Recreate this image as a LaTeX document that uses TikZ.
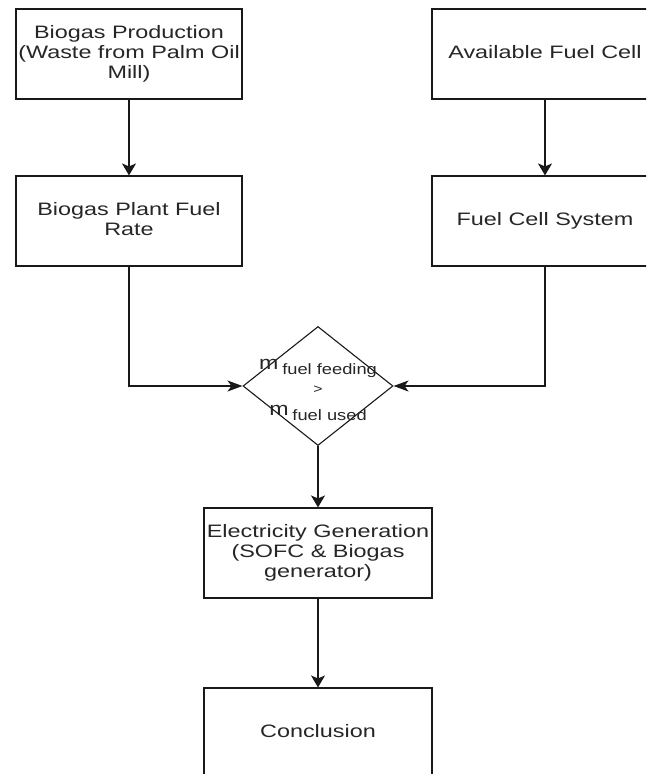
\documentclass[tikz,border=0pt]{standalone}
\usepackage{graphicx}
\usepackage{fontspec}
\setmainfont{Liberation Sans}
\usetikzlibrary{arrows.meta,shapes.geometric}
\newcommand{\strtxt}[1]{\scalebox{1.3}[1]{\begin{tabular}{@{}c@{}}#1\end{tabular}}}
\newcommand{\subtxt}[1]{\,\raisebox{-5pt}{\fontsize{15}{15}\selectfont #1}}
\begin{document}
\begin{tikzpicture}[x=1pt,y=-1pt,
  box/.style={draw=black!90, line width=1.1pt, rectangle, minimum width=226pt,
    minimum height=90pt, inner sep=0pt, text=black!85,
    font=\fontsize{18}{20}\selectfont},
  dia/.style={draw=black!90, line width=1.1pt, diamond, minimum width=150pt,
    minimum height=119pt, inner sep=0pt},
  dtxt/.style={inner sep=0pt, text=black!85, font=\fontsize{19}{22}\selectfont},
  arrv/.style={draw=black!90, line width=1.1pt, -{Stealth[length=12pt,width=14pt,inset=3pt]}},
  arrh/.style={draw=black!90, line width=1.1pt, -{Stealth[length=15pt,width=11pt,inset=4pt]}}]
\useasboundingbox (0,0) rectangle (646,774);
\clip (0,0) rectangle (646,774);
\node[box] (b1) at (129,54) {\strtxt{Biogas Production\\(Waste from Palm Oil\\Mill)}};
\node[box] (b2) at (129,221) {\strtxt{Biogas Plant Fuel\\Rate}};
\node[box] (r1) at (545,54) {\strtxt{Available Fuel Cell}};
\node[box] (r2) at (545,221) {\strtxt{Fuel Cell System}};
\node[dia] (d) at (318,386) {};
\node[dtxt] (dt) at (318,388) {\scalebox{1.22}[1]{\begin{tabular}{@{}c@{}}m\subtxt{fuel feeding}\\{\fontsize{13}{13}\selectfont \textgreater}\\m\subtxt{fuel used}\end{tabular}}};
\node[box, minimum width=228pt] (e) at (318,553) {\strtxt{Electricity Generation\\(SOFC \& Biogas\\generator)}};
\node[box, minimum width=228pt] (c) at (318,733) {\strtxt{Conclusion}};
\draw[arrv] (b1) -- (b2);
\draw[arrv] (r1) -- (r2);
\draw[arrh] (b2.south) |- (d.west);
\draw[arrh] (r2.south) |- (d.east);
\draw[arrv] (d.south) -- (e.north);
\draw[arrv] (e.south) -- (c.north);
\end{tikzpicture}
\end{document}
